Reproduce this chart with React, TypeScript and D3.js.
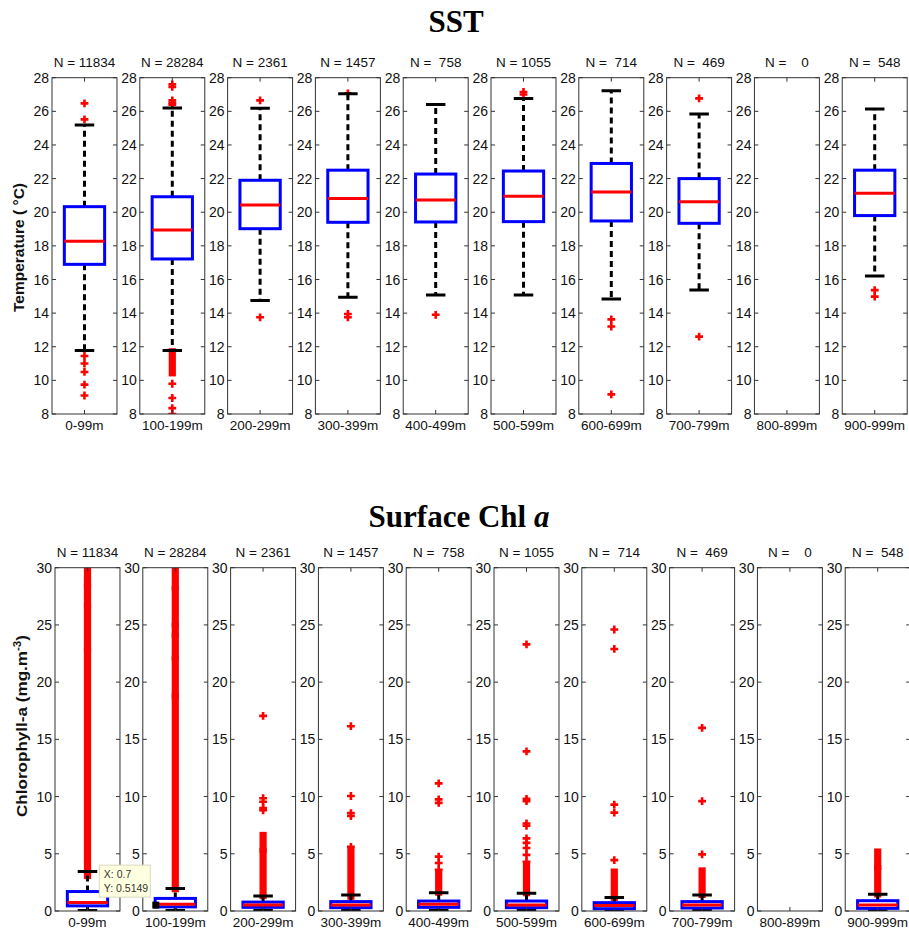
import React from 'react';
import * as d3 from 'd3';

// depth bins shared by both rows
const depthBins = ['0-99m', '100-199m', '200-299m', '300-399m', '400-499m', '500-599m', '600-699m', '700-799m', '800-899m', '900-999m'];
const sampleCounts = ['11834', '28284', '2361', '1457', ' 758', '1055', ' 714', ' 469', '   0', ' 548'];

const sstTicks = [8, 10, 12, 14, 16, 18, 20, 22, 24, 26, 28];
const chlTicks = [0, 5, 10, 15, 20, 25, 30];

// SST box stats (NaN = no data)
const sstHi = [25.18, 26.2, 26.18, 27.05, 26.41, 26.77, 27.22, 25.84, NaN, 26.14];
const sstQ3 = [20.33, 20.92, 21.9, 22.5, 22.27, 22.45, 22.9, 22.0, NaN, 22.5];
const sstMed = [18.27, 18.94, 20.43, 20.82, 20.73, 20.95, 21.2, 20.63, NaN, 21.13];
const sstQ1 = [16.9, 17.22, 19.02, 19.4, 19.42, 19.44, 19.48, 19.34, NaN, 19.8];
const sstLo = [11.78, 11.78, 14.75, 14.95, 15.08, 15.08, 14.84, 15.37, NaN, 16.2];
const sstOut = [
  [26.47, 25.52, 11.45, 11.0, 10.5, 9.75, 9.1],
  [27.6, 27.45, 26.65, 26.5, 26.4, 9.8, 8.95, 8.35, 8.0],
  [26.65, 13.75],
  [27.07, 13.95, 13.75],
  [13.9],
  [27.15, 27.0],
  [13.63, 13.2, 9.17],
  [26.77, 12.6],
  [],
  [15.37, 14.98],
];
const sstDense = [[], [[10.45, 11.7]], [], [], [], [], [], [], [], []];

// Chl a box stats
const chlHi = [3.45, 1.97, 1.3, 1.4, 1.6, 1.55, 1.17, 1.4, NaN, 1.46];
const chlQ3 = [1.7, 1.1, 0.78, 0.82, 0.87, 0.87, 0.73, 0.82, NaN, 0.9];
const chlMed = [0.75, 0.6, 0.52, 0.52, 0.58, 0.52, 0.47, 0.52, NaN, 0.52];
const chlQ1 = [0.45, 0.36, 0.32, 0.29, 0.32, 0.29, 0.2, 0.26, NaN, 0.23];
const chlLo = [0.05, 0.05, 0.05, 0.05, 0.05, 0.05, 0.05, 0.05, NaN, 0.05];
const chlOut = [
  [],
  [],
  [17.05, 9.85, 9.55, 9.0, 8.8],
  [16.15, 10.05, 8.55, 8.3, 5.6],
  [11.15, 9.75, 9.45, 4.75, 4.2, 3.6],
  [23.3, 13.95, 9.8, 9.6, 7.65, 7.45, 6.35, 5.95, 5.5, 4.9, 4.3],
  [24.6, 22.9, 9.3, 8.6, 4.45],
  [16.0, 9.6, 4.95],
  [],
  [],
];
const chlDense = [
  [[3.1, 22.7], [22.9, 26.6], [26.8, 28.3], [28.5, 30.5]],
  [[1.95, 18.7], [18.9, 22.0], [22.2, 24.0], [24.2, 24.9], [25.1, 28.1], [28.3, 30.5]],
  [[1.35, 5.2], [5.4, 6.6]],
  [[1.3, 5.2]],
  [[1.65, 3.3]],
  [[1.6, 4.0]],
  [[1.2, 3.4]],
  [[1.45, 3.5]],
  [],
  [[1.5, 3.7], [3.9, 5.15]],
];

// data cursor shown in the Chl row
const cursorBin = '100-199m';
const cursorX = 0.7;
const cursorY = 0.5149;

const sans = '"Liberation Sans", Arial, sans-serif';
const serif = '"Liberation Serif", "Times New Roman", serif';

const plus = d3.symbol(d3.symbolCross, 34)();

type RowProps = {
  id: string;
  band: d3.ScaleBand<string>;
  y: d3.ScaleLinear<number, number>;
  ticks: number[];
  hi: number[]; q3: number[]; med: number[]; q1: number[]; lo: number[];
  out: number[][]; dense: number[][][];
  nBase: number; labelBase: number;
};

function Row({ id, band, y, ticks, hi, q3, med, q1, lo, out, dense, nBase, labelBase }: RowProps) {
  const [yBot, yTop] = y.range();
  const w = band.bandwidth();
  return (
    <g>
      {depthBins.map((bin, i) => {
        const left = band(bin) as number;
        const x = d3.scaleLinear().domain([0.5, 1.5]).range([left, left + w]);
        const cx = x(1);
        const has = !isNaN(hi[i]);
        return (
          <g key={bin}>
            <clipPath id={`${id}-clip-${i}`}>
              <rect x={left} y={yTop} width={w} height={yBot - yTop} />
            </clipPath>
            <text x={cx} y={nBase} textAnchor="middle" fontFamily={sans} fontSize={13.5} fill="#111" style={{ whiteSpace: 'pre' }}>
              {`N = ${sampleCounts[i]}`}
            </text>
            <g clipPath={`url(#${id}-clip-${i})`}>
              {dense[i].map(([a, b], k) => (
                <rect key={k} x={cx - 3.6} y={y(b) - 3.6} width={7.2} height={y(a) - y(b) + 7.2} fill="#ff0000" />
              ))}
              {out[i].map((v, k) => (
                <path key={k} d={plus} transform={`translate(${cx},${y(v)})`} fill="#ff0000" />
              ))}
              {has && (
                <g>
                  <line x1={cx} x2={cx} y1={y(q3[i])} y2={y(hi[i])} stroke="#000" strokeWidth={3} strokeDasharray="6,4" />
                  <line x1={cx} x2={cx} y1={y(q1[i])} y2={y(lo[i])} stroke="#000" strokeWidth={3} strokeDasharray="6,4" />
                  <line x1={x(0.85)} x2={x(1.15)} y1={y(hi[i])} y2={y(hi[i])} stroke="#000" strokeWidth={3} />
                  <line x1={x(0.85)} x2={x(1.15)} y1={y(lo[i])} y2={y(lo[i])} stroke="#000" strokeWidth={3} />
                  <rect x={x(0.69)} y={y(q3[i])} width={x(1.31) - x(0.69)} height={y(q1[i]) - y(q3[i])} fill="none" stroke="#0000ff" strokeWidth={3} />
                  <line x1={x(0.69)} x2={x(1.31)} y1={y(med[i])} y2={y(med[i])} stroke="#ff0000" strokeWidth={3} />
                </g>
              )}
            </g>
            <rect x={left} y={yTop} width={w} height={yBot - yTop} fill="none" stroke="#333" strokeWidth={1} />
            <line x1={cx} x2={cx} y1={yTop} y2={yTop + 4} stroke="#333" />
            <line x1={cx} x2={cx} y1={yBot} y2={yBot - 4} stroke="#333" />
            {ticks.map(t => (
              <g key={t}>
                <line x1={left} x2={left + 4} y1={y(t)} y2={y(t)} stroke="#333" />
                <line x1={left + w - 4} x2={left + w} y1={y(t)} y2={y(t)} stroke="#333" />
                <text x={left - 3} y={y(t)} dy="0.36em" textAnchor="end" fontFamily={sans} fontSize={14} fill="#111">{t}</text>
              </g>
            ))}
            <text x={cx} y={labelBase} textAnchor="middle" fontFamily={sans} fontSize={13.5} fill="#111">{bin}</text>
          </g>
        );
      })}
    </g>
  );
}

export default function App() {
  const width = 909;
  const height = 932;

  const sstBand = d3.scaleBand<string>().domain(depthBins).range([52, 907.2]).paddingInner(0.26).paddingOuter(0);
  const chlBand = d3.scaleBand<string>().domain(depthBins).range([55, 910.2]).paddingInner(0.26).paddingOuter(0);
  const sstY = d3.scaleLinear().domain([8, 28]).range([414, 77.7]);
  const chlY = d3.scaleLinear().domain([0, 30]).range([911, 567.7]);

  const cLeft = chlBand(cursorBin) as number;
  const cx = d3.scaleLinear().domain([0.5, 1.5]).range([cLeft, cLeft + chlBand.bandwidth()]);
  const mx = cx(cursorX);
  const my = chlY(cursorY);

  return (
    <svg width={width} height={height} style={{ position: 'absolute', left: 0, top: 0, background: '#fff' }}>
      <text x={456} y={32} textAnchor="middle" fontFamily={serif} fontWeight="bold" fontSize={31}>SST</text>
      <text x={459} y={527} textAnchor="middle" fontFamily={serif} fontWeight="bold" fontSize={31}>
        Surface Chl <tspan fontStyle="italic">a</tspan>
      </text>

      <Row id="sst" band={sstBand} y={sstY} ticks={sstTicks} hi={sstHi} q3={sstQ3} med={sstMed} q1={sstQ1} lo={sstLo}
        out={sstOut} dense={sstDense} nBase={67} labelBase={430} />
      <Row id="chl" band={chlBand} y={chlY} ticks={chlTicks} hi={chlHi} q3={chlQ3} med={chlMed} q1={chlQ1} lo={chlLo}
        out={chlOut} dense={chlDense} nBase={556.5} labelBase={926.5} />

      <text transform="translate(24,247.5) rotate(-90)" textAnchor="middle" fontFamily={sans} fontWeight="bold" fontSize={15}
        textLength={129} lengthAdjust="spacingAndGlyphs" fill="#111">Temperature ( °C)</text>
      <text transform="translate(27,726) rotate(-90)" textAnchor="middle" fontFamily={sans} fontWeight="bold" fontSize={15.5}
        textLength={182} lengthAdjust="spacingAndGlyphs" fill="#111">
        Chlorophyll-a (mg.m<tspan dy={-6} fontSize={10.5}>-3</tspan><tspan dy={6}>)</tspan>
      </text>

      {/* data cursor */}
      <rect x={mx - 3.5} y={my - 3.5} width={7} height={7} fill="#000" />
      <rect x={mx - 56.5} y={my - 40} width={51} height={32} fill="#ffffe1" stroke="#d8d8c0" strokeWidth={1} />
      <text x={mx - 52} y={my - 27} fontFamily={sans} fontSize={10.5} fill="#333">X: 0.7</text>
      <text x={mx - 52} y={my - 13.5} fontFamily={sans} fontSize={10.5} fill="#333">Y: 0.5149</text>
    </svg>
  );
}
